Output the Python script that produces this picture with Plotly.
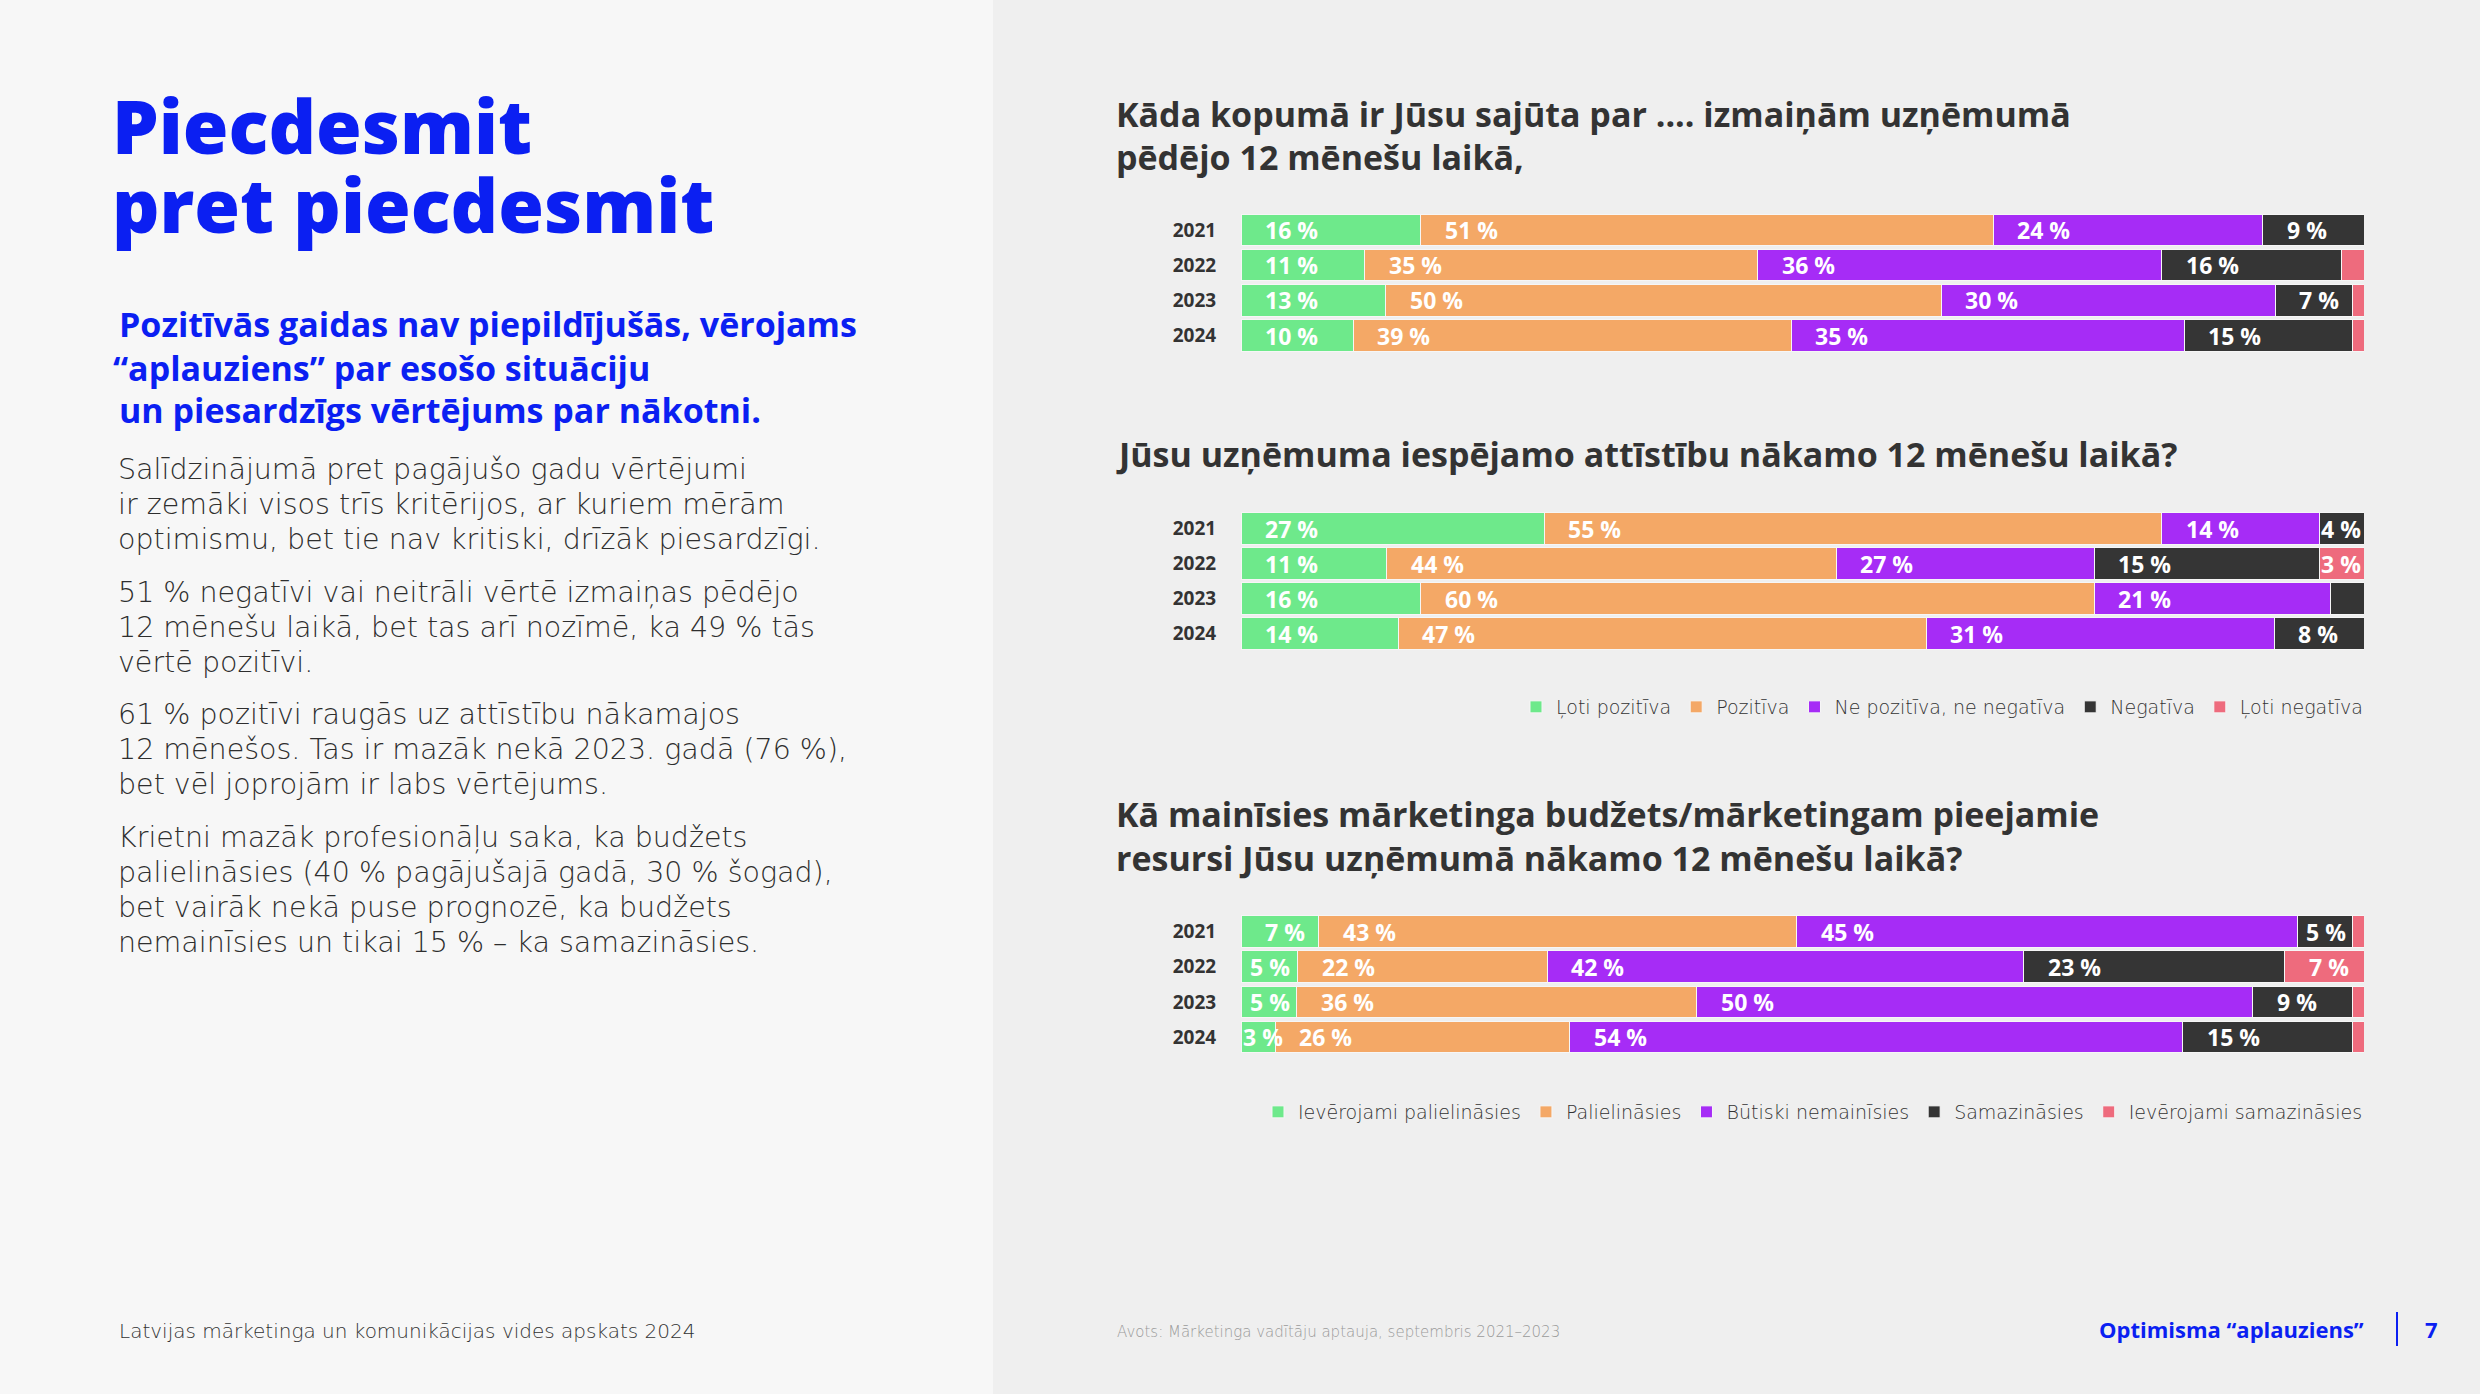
import plotly.graph_objects as go

W, H = 2480, 1394

# ---------------- data ----------------
YEARS = ["2021", "2022", "2023", "2024"]
SENTIMENT = ["Ļoti pozitīva", "Pozitīva", "Ne pozitīva, ne negatīva", "Negatīva", "Ļoti negatīva"]
BUDGET = ["Ievērojami palielināsies", "Palielināsies", "Būtiski nemainīsies",
          "Samazināsies", "Ievērojami samazināsies"]
COLORS = ["#6ee98b", "#f4a866", "#a62cf6", "#353535", "#ee6b7d"]

# Chart 1: feeling about changes in the company over the last 12 months (2021..2024)
C1_VERY_POS = [16, 11, 13, 10]
C1_POS = [51, 35, 50, 39]
C1_NEUTRAL = [24, 36, 30, 35]
C1_NEG = [9, 16, 7, 15]
C1_VERY_NEG = [0, 2, 1, 1]
C1_LBL_VERY_POS = [16, 11, 13, 10]
C1_LBL_POS = [51, 35, 50, 39]
C1_LBL_NEUTRAL = [24, 36, 30, 35]
C1_LBL_NEG = [9, 16, 7, 15]
C1_LBL_VERY_NEG = [None, None, None, None]

# Chart 2: possible development of the company in the next 12 months
C2_VERY_POS = [27, 13, 16, 14]
C2_POS = [55, 40, 60, 47]
C2_NEUTRAL = [14, 23, 21, 31]
C2_NEG = [4, 20, 3, 8]
C2_VERY_NEG = [0, 4, 0, 0]
C2_LBL_VERY_POS = [27, 11, 16, 14]
C2_LBL_POS = [55, 44, 60, 47]
C2_LBL_NEUTRAL = [14, 27, 21, 31]
C2_LBL_NEG = [4, 15, None, 8]
C2_LBL_VERY_NEG = [None, 3, None, None]

# Chart 3: marketing budget / resources in the next 12 months
C3_MUCH_UP = [7, 5, 5, 3]
C3_UP = [43, 22, 36, 26]
C3_SAME = [45, 42, 50, 54]
C3_DOWN = [5, 23, 9, 15]
C3_MUCH_DOWN = [1, 7, 1, 1]
C3_LBL_MUCH_UP = [7, 5, 5, 3]
C3_LBL_UP = [43, 22, 36, 26]
C3_LBL_SAME = [45, 42, 50, 54]
C3_LBL_DOWN = [5, 23, 9, 15]
C3_LBL_MUCH_DOWN = [None, 7, None, None]

TITLE_LINES = ["Piecdesmit", "pret piecdesmit"]
SUB_LINES = ["Pozitīvās gaidas nav piepildījušās, vērojams",
             "“aplauziens” par esošo situāciju",
             "un piesardzīgs vērtējums par nākotni."]
BODY_PARAS = [
    ["Salīdzinājumā pret pagājušo gadu vērtējumi",
     "ir zemāki visos trīs kritērijos, ar kuriem mērām",
     "optimismu, bet tie nav kritiski, drīzāk piesardzīgi."],
    ["51 % negatīvi vai neitrāli vērtē izmaiņas pēdējo",
     "12 mēnešu laikā, bet tas arī nozīmē, ka 49 % tās",
     "vērtē pozitīvi."],
    ["61 % pozitīvi raugās uz attīstību nākamajos",
     "12 mēnešos. Tas ir mazāk nekā 2023. gadā (76 %),",
     "bet vēl joprojām ir labs vērtējums."],
    ["Krietni mazāk profesionāļu saka, ka budžets",
     "palielināsies (40 % pagājušajā gadā, 30 % šogad),",
     "bet vairāk nekā puse prognozē, ka budžets",
     "nemainīsies un tikai 15 % – ka samazināsies."],
]
CHART_TITLES = [
    ["Kāda kopumā ir Jūsu sajūta par .... izmaiņām uzņēmumā", "pēdējo 12 mēnešu laikā,"],
    ["Jūsu uzņēmuma iespējamo attīstību nākamo 12 mēnešu laikā?"],
    ["Kā mainīsies mārketinga budžets/mārketingam pieejamie",
     "resursi Jūsu uzņēmumā nākamo 12 mēnešu laikā?"],
]
FOOTER_LEFT = "Latvijas mārketinga un komunikācijas vides apskats 2024"
FOOTER_SOURCE = "Avots: Mārketinga vadītāju aptauja, septembris 2021–2023"
FOOTER_SECTION = "Optimisma “aplauziens”"
PAGE_NO = "7"

# ---------------- style ----------------
BLUE = "#0b1ff2"
DARK = "#333333"
BOLD_FAM = "Open Sans"
LIGHT_FAM = "DejaVu Sans"
K = {"Open Sans": 0.388, "DejaVu Sans": 0.346}
LABEL_FONT = dict(family=BOLD_FAM, size=23, color="white", weight=700)

fig = go.Figure()


def label_shift(v):
    if v >= 6:
        return 22
    if v == 5:
        return 7
    return 0


charts = [
    (SENTIMENT,
     [C1_VERY_POS, C1_POS, C1_NEUTRAL, C1_NEG, C1_VERY_NEG],
     [C1_LBL_VERY_POS, C1_LBL_POS, C1_LBL_NEUTRAL, C1_LBL_NEG, C1_LBL_VERY_NEG],
     None),
    (SENTIMENT,
     [C2_VERY_POS, C2_POS, C2_NEUTRAL, C2_NEG, C2_VERY_NEG],
     [C2_LBL_VERY_POS, C2_LBL_POS, C2_LBL_NEUTRAL, C2_LBL_NEG, C2_LBL_VERY_NEG],
     "legend"),
    (BUDGET,
     [C3_MUCH_UP, C3_UP, C3_SAME, C3_DOWN, C3_MUCH_DOWN],
     [C3_LBL_MUCH_UP, C3_LBL_UP, C3_LBL_SAME, C3_LBL_DOWN, C3_LBL_MUCH_DOWN],
     "legend2"),
]

bar_labels = []
for ci, (cats, series, labels, leg) in enumerate(charts):
    sfx = "" if ci == 0 else str(ci + 1)
    totals = [sum(s[k] for s in series) for k in range(len(YEARS))]
    cum = [0.0] * len(YEARS)
    for j, cat in enumerate(cats):
        tr = dict(
            y=YEARS, x=series[j], orientation="h", name=cat,
            marker=dict(color=COLORS[j], line=dict(color="#f6f6f6", width=1)),
            xaxis="x" + sfx, yaxis="y" + sfx,
            hoverinfo="skip",
            showlegend=leg is not None,
        )
        if leg is not None:
            tr["legend"] = leg
        fig.add_trace(go.Bar(**tr))
        # value labels, left-aligned inside each segment (positions from the data;
        # y given as the category's serial index on the category axis)
        for k in range(len(YEARS)):
            v = labels[j][k]
            if v is not None:
                bar_labels.append(dict(
                    x=cum[k] / totals[k] * 100, y=k, xref="x" + sfx, yref="y" + sfx,
                    text=f"{v}\u00a0%", showarrow=False, xanchor="left", yanchor="middle",
                    xshift=label_shift(v), font=LABEL_FONT,
                ))
            cum[k] += series[j][k]

# bar area positions (pixels)
X0, X1 = 1241, 2364
Y_DOMAINS = [(212.4, 353.1), (511.0, 651.0), (914.0, 1054.6)]

layout = dict(
    width=W, height=H, margin=dict(l=0, r=0, t=0, b=0),
    paper_bgcolor="#efefef", plot_bgcolor="rgba(0,0,0,0)",
    barmode="stack", barnorm="percent", bargap=0.1,
    showlegend=True,
)
for ci, (t, b) in enumerate(Y_DOMAINS):
    sfx = "" if ci == 0 else str(ci + 1)
    layout["xaxis" + sfx] = dict(domain=[X0 / W, X1 / W], range=[0, 100], visible=False,
                                 anchor="y" + sfx, fixedrange=True)
    layout["yaxis" + sfx] = dict(domain=[1 - b / H, 1 - t / H], type="category",
                                 categoryorder="array", categoryarray=YEARS,
                                 range=[len(YEARS) - 0.5, -0.5], anchor="x" + sfx,
                                 showgrid=False, zeroline=False, showline=False,
                                 ticks="outside", ticklen=20, tickcolor="rgba(0,0,0,0)",
                                 tickfont=dict(family=BOLD_FAM, size=19, color=DARK, weight=700),
                                 fixedrange=True)

legend_common = dict(orientation="h", xanchor="right", yanchor="middle",
                     bgcolor="rgba(0,0,0,0)", traceorder="normal",
                     font=dict(family=LIGHT_FAM, size=19, color=DARK, weight=300),
                     itemclick=False, itemdoubleclick=False)
layout["legend"] = dict(x=2368 / W, y=1 - 707 / H, **legend_common)
layout["legend2"] = dict(x=2368 / W, y=1 - 1112 / H, **legend_common)

layout["shapes"] = [
    dict(type="rect", xref="paper", yref="paper", x0=0, x1=993 / W, y0=0, y1=1,
         fillcolor="#f7f7f7", line=dict(width=0), layer="below"),
    dict(type="line", xref="paper", yref="paper", x0=2397 / W, x1=2397 / W,
         y0=1 - 1346 / H, y1=1 - 1312 / H, line=dict(color=BLUE, width=2)),
]
layout["annotations"] = bar_labels
fig.update_layout(**layout)


def add_line(text, x_px, baseline_px, size, family, weight, color, xanchor="left"):
    fig.add_annotation(
        x=x_px / W, y=1 - (baseline_px - K[family] * size) / H,
        xref="paper", yref="paper", text=text, showarrow=False,
        xanchor=xanchor, yanchor="middle", align="left",
        font=dict(family=family, size=size, color=color, weight=weight),
    )


# left column
for txt, bl in zip(TITLE_LINES, [154, 233]):
    add_line(txt, 110, bl, 74, BOLD_FAM, 800, BLUE)
for txt, bl, x in zip(SUB_LINES, [337, 381, 423], [117, 111, 117]):
    add_line(txt, x, bl, 34, BOLD_FAM, 700, BLUE)
body_baselines = [[479, 514, 549], [602, 637, 672], [724, 759, 794], [847, 882, 917, 952]]
for para, bls in zip(BODY_PARAS, body_baselines):
    for txt, bl in zip(para, bls):
        add_line(txt, 116, bl, 28.5, LIGHT_FAM, 300, "#2e2e2e")

# chart titles
title_baselines = [[127, 170], [467], [827, 871]]
for lines, bls in zip(CHART_TITLES, title_baselines):
    for txt, bl in zip(lines, bls):
        add_line(txt, 1114, bl, 34, BOLD_FAM, 700, DARK)

# footer
add_line(FOOTER_LEFT, 117, 1338, 20, LIGHT_FAM, 300, DARK)
add_line(FOOTER_SOURCE, 1115, 1337, 15, LIGHT_FAM, 300, "#9a9a9a")
add_line(FOOTER_SECTION, 2366, 1338, 22, BOLD_FAM, 700, BLUE, xanchor="right")
add_line(PAGE_NO, 2423, 1338, 22, BOLD_FAM, 700, BLUE)

fig.write_html(
    "out.html",
    config={"displayModeBar": False},
    post_script="document.body.style.margin='0px';document.body.style.overflow='hidden';",
)
